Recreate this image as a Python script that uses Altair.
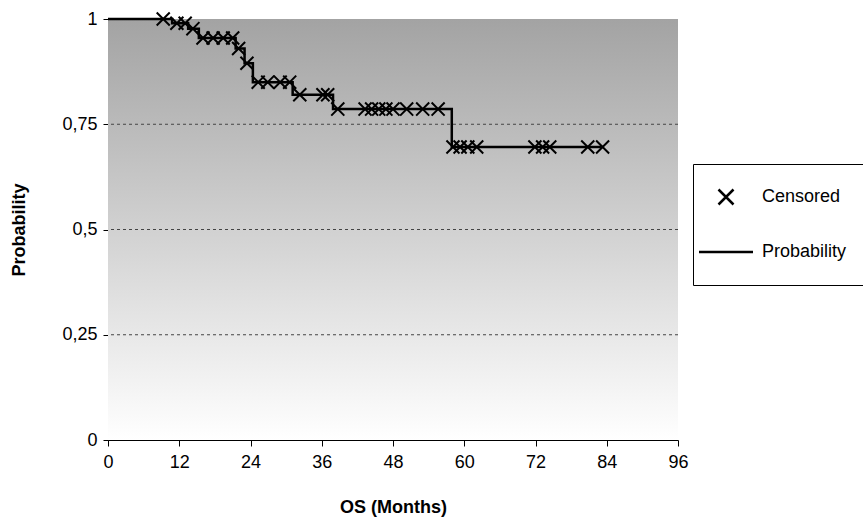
import altair as alt
import pandas as pd

# Step curve (Kaplan-Meier estimate)
step_t = [0, 10.8, 13.5, 15.3, 21.5, 23.0, 24.4, 31.1, 37.9, 57.9, 83.3]
step_p = [1.0, 0.99, 0.977, 0.955, 0.93, 0.895, 0.85, 0.82, 0.786, 0.696, 0.696]

# Censored observations
cens_t = [9.3, 11.6, 13.0, 14.3, 16.0, 17.7, 19.4, 21.0, 22.0, 23.4,
          25.3, 26.9, 29.0, 30.6, 32.3, 36.2, 37.0,
          38.7, 43.3, 44.4, 45.6, 46.8, 48.0, 50.3, 53.0, 55.6,
          58.1, 59.3, 60.6, 62.1, 71.9, 73.2, 74.4, 80.8, 83.3]
cens_p = [1.0, 0.99, 0.99, 0.977, 0.955, 0.955, 0.955, 0.955, 0.93, 0.895,
          0.85, 0.85, 0.85, 0.85, 0.82, 0.82, 0.82,
          0.786, 0.786, 0.786, 0.786, 0.786, 0.786, 0.786, 0.786, 0.786,
          0.696, 0.696, 0.696, 0.696, 0.696, 0.696, 0.696, 0.696, 0.696]

x_ticks = [0, 12, 24, 36, 48, 60, 72, 84, 96]
y_ticks = [0, 0.25, 0.5, 0.75, 1]
grid_vals = [0.25, 0.5, 0.75]
series_names = ["Censored", "Probability"]

FONT = "Liberation Sans"
W, H = 570, 421

step_df = pd.DataFrame({"t": step_t, "p": step_p})
cens_df = pd.DataFrame({"t": cens_t, "p": cens_p, "series": "Censored"})
grid_df = pd.DataFrame({"g": grid_vals})
bg_df = pd.DataFrame({"x0": [x_ticks[0]], "x1": [x_ticks[-1]], "y0": [0.0], "y1": [1.0]})

xscale = alt.Scale(domain=[0, 96], nice=False, zero=False)
yscale = alt.Scale(domain=[0, 1], nice=False)

xaxis = alt.Axis(values=x_ticks, title="OS (Months)", grid=False,
                 domainColor="black", tickColor="black", tickSize=6,
                 labelFont=FONT, labelFontSize=18, labelColor="black", labelPadding=7,
                 titleFont=FONT, titleFontSize=18, titleFontWeight="bold",
                 titleColor="black", titlePadding=27, labelFlush=False)
yaxis = alt.Axis(values=y_ticks, title="Probability", grid=False,
                 domainColor="black", tickColor="black", tickSize=5,
                 labelFont=FONT, labelFontSize=18, labelColor="black", labelPadding=6,
                 labelExpr="replace(toString(datum.value), '.', ',')",
                 titleFont=FONT, titleFontSize=18, titleFontWeight="bold",
                 titleColor="black", titlePadding=33, labelFlush=False)

gradient = alt.LinearGradient(
    gradient="linear",
    stops=[alt.GradientStop(color="#a3a3a3", offset=0),
           alt.GradientStop(color="#ffffff", offset=1)],
    x1=0, x2=0, y1=0, y2=1)

bg = alt.Chart(bg_df).mark_rect(fill=gradient, stroke=None).encode(
    x=alt.X("x0:Q", scale=xscale, axis=xaxis),
    x2="x1:Q",
    y=alt.Y("y0:Q", scale=yscale, axis=yaxis),
    y2="y1:Q",
)

grid = alt.Chart(grid_df).mark_rule(color="#444444", strokeDash=[3, 3], strokeWidth=1).encode(
    y=alt.Y("g:Q", scale=yscale)
)

line = alt.Chart(step_df).mark_line(interpolate="step-after", color="black",
                                     strokeWidth=2.5).encode(
    x=alt.X("t:Q", scale=xscale),
    y=alt.Y("p:Q", scale=yscale),
)

cross_path = "M-1,-1L1,1M-1,1L1,-1"
line_path = "M-3.6,0L3.6,0"

pts = alt.Chart(cens_df).mark_point(filled=False, color="black", strokeWidth=2,
                                     size=170, opacity=1).encode(
    x=alt.X("t:Q", scale=xscale),
    y=alt.Y("p:Q", scale=yscale),
    shape=alt.Shape("series:N",
                    scale=alt.Scale(domain=series_names, range=[cross_path, line_path]),
                    legend=alt.Legend(title=None, orient="none",
                                      legendX=585, legendY=145,
                                      padding=24, rowPadding=33,
                                      strokeColor="black", fillColor="white",
                                      labelFont=FONT, labelFontSize=18,
                                      labelColor="black", labelOffset=27,
                                      symbolSize=225, symbolStrokeWidth=2.5,
                                      symbolStrokeColor="black",
                                      symbolFillColor="transparent")),
)

chart = alt.layer(bg, grid, line, pts).properties(
    width=W, height=H,
    autosize=alt.AutoSizeParams(type="none"),
    padding={"left": 108, "top": 19, "right": 863 - 108 - W, "bottom": 522 - 19 - H},
    background="white",
).configure_view(stroke=None)

chart.save("out.html", embed_options={"renderer": "svg", "actions": False})
